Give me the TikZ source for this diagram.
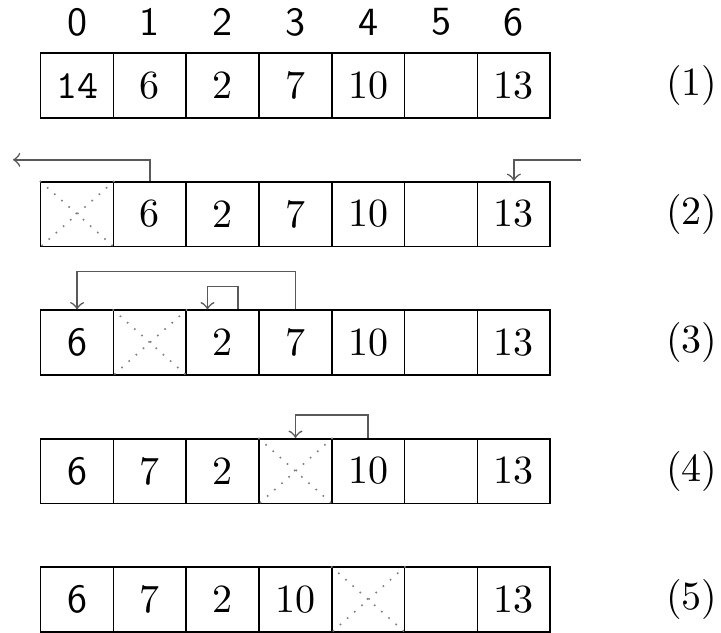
\documentclass[tikz,border=0pt]{standalone}
\usepackage{tikz}

\tikzset{
  cell/.style={draw, minimum width=18.2pt, minimum height=16.2pt, inner sep=0pt},
  cross/.style={dotted, gray},
  arr/.style={->, black!65},
}

\begin{document}
\begin{tikzpicture}[x=0.25pt,y=-0.25pt]

    \useasboundingbox (0,0) rectangle (721,633);

    % indices
    \foreach \c in {0,...,6}
        \node (i\c) at ({77.1+72.8*\c},22) {\sffamily\c};

    % rows of the table
    \foreach \v [count=\c from 0] in {\texttt{14},6,2,7,10,{},13}
        \node[cell] (ra\c) at ({77.1+72.8*\c},85.6) {\v};
    \foreach \v [count=\c from 0] in {{},6,2,7,10,{},13}
        \node[cell] (rb\c) at ({77.1+72.8*\c},214.1) {\v};
    \foreach \v [count=\c from 0] in {\textsf{6},{},2,7,10,{},13}
        \node[cell] (rc\c) at ({77.1+72.8*\c},342.6) {\v};
    \foreach \v [count=\c from 0] in {\textsf{6},7,2,{},10,{},13}
        \node[cell] (rd\c) at ({77.1+72.8*\c},471.1) {\v};
    \foreach \v [count=\c from 0] in {\textsf{6},7,2,10,{},{},13}
        \node[cell] (re\c) at ({77.1+72.8*\c},599.6) {\v};

    % removed entries
    \foreach \n in {rb0,rc1,rd3,re4}
        \draw[cross] (\n.north west) -- (\n.south east)
                     (\n.north east) -- (\n.south west);

    % step labels
    \node (la) at (692,85.6) {(1)};
    \node (lb) at (692,214.1) {(2)};
    \node (lc) at (692,342.6) {(3)};
    \node (ld) at (692,471.1) {(4)};
    \node (le) at (692,599.6) {(5)};

    % moves
    \coordinate (out) at (13,159.8);
    \coordinate (in) at (581,159.8);
    \draw[arr] (rb1.north) |- (out);
    \draw[arr] (in) -| (rb6.north);

    \draw[arr] (rc3.north) -- ++(0,-38) -| (rc0.north);
    \draw[arr] ([xshift=3.8pt]rc2.north) -- ++(0,-23) -| ([xshift=-3.8pt]rc2.north);

    \draw[arr] (rd4.north) -- ++(0,-23) -| (rd3.north);

\end{tikzpicture}
\end{document}
